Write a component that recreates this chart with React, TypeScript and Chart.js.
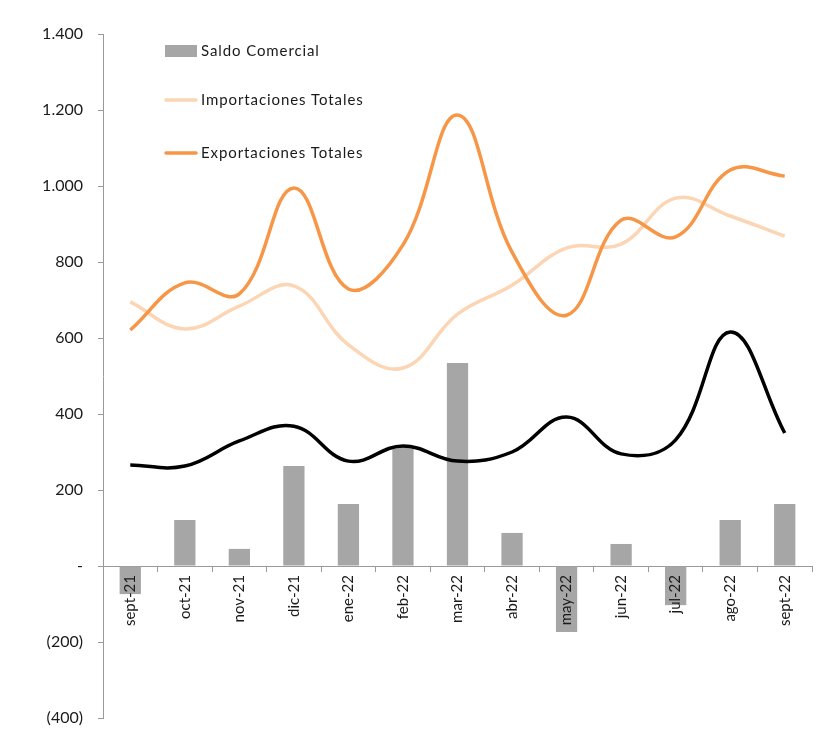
import React, { useEffect, useRef } from "react";
import { Chart, registerables } from "chart.js";

Chart.register(...registerables);

const categories = [
  "sept-21", "oct-21", "nov-21", "dic-21", "ene-22", "feb-22", "mar-22",
  "abr-22", "may-22", "jun-22", "jul-22", "ago-22", "sept-22",
];
const saldoComercial = [-74, 121, 45, 263, 163, 313, 534, 87, -174, 58, -103, 121, 163];
const importaciones = [695, 624, 684, 737, 582, 521, 663, 739, 837, 847, 968, 921, 868];
const exportaciones = [621, 745, 716, 995, 729, 845, 1187, 826, 660, 910, 866, 1042, 1026];
const serieNegra = [266, 263, 329, 368, 276, 316, 276, 300, 392, 295, 332, 616, 350];

const FONT = "Lato, 'Liberation Sans', sans-serif";

const fmt = (n: number) => String(n).replace(/\B(?=(\d{3})+(?!\d))/g, ".");

const legendPlugin = {
  id: "insideLegend",
  afterDraw(chart: any) {
    const { ctx, chartArea } = chart;
    const items = [
      { label: "Saldo Comercial", type: "box", color: "#A6A6A6", dy: 17 },
      { label: "Importaciones Totales", type: "line", color: "#FCD5B5", dy: 66 },
      { label: "Exportaciones Totales", type: "line", color: "#F79646", dy: 119 },
    ];
    ctx.save();
    const x0 = chartArea.left + 62;
    items.forEach((it) => {
      const y = chartArea.top + it.dy;
      if (it.type === "box") {
        ctx.fillStyle = it.color;
        ctx.fillRect(x0, y - 6, 32, 12);
      } else {
        ctx.strokeStyle = it.color;
        ctx.lineWidth = 3.5;
        ctx.lineCap = "round";
        ctx.beginPath();
        ctx.moveTo(x0 + 1, y);
        ctx.lineTo(x0 + 31, y);
        ctx.stroke();
      }
      ctx.fillStyle = "#1a1a1a";
      ctx.font = `15px ${FONT}`;
      (ctx as any).letterSpacing = "0.9px";
      ctx.textBaseline = "middle";
      ctx.textAlign = "left";
      ctx.fillText(it.label, x0 + 36, y);
    });
    ctx.restore();
  },
};

export default function App() {
  const ref = useRef<HTMLCanvasElement | null>(null);

  useEffect(() => {
    if (!ref.current) return;
    const chart = new Chart(ref.current, {
      type: "bar",
      data: {
        labels: categories,
        datasets: [
          {
            type: "line",
            label: "Exportaciones Totales",
            data: exportaciones,
            borderColor: "#F79646",
            borderWidth: 3.5,
            pointRadius: 0,
            tension: 0.4,
            fill: false,
            order: 1,
          },
          {
            type: "line",
            label: "Importaciones Totales",
            data: importaciones,
            borderColor: "#FCD5B5",
            borderWidth: 3.5,
            pointRadius: 0,
            tension: 0.4,
            fill: false,
            order: 2,
          },
          {
            type: "line",
            label: "",
            data: serieNegra,
            borderColor: "#000000",
            borderWidth: 3.5,
            pointRadius: 0,
            tension: 0.4,
            fill: false,
            order: 3,
          },
          {
            type: "bar",
            label: "Saldo Comercial",
            data: saldoComercial,
            backgroundColor: "#A6A6A6",
            categoryPercentage: 1,
            barPercentage: 0.39,
            order: 4,
          },
        ],
      },
      options: {
        animation: false,
        responsive: true,
        maintainAspectRatio: false,
        layout: { padding: { left: 0, top: 34, right: 5, bottom: 13 } },
        plugins: {
          legend: { display: false },
          tooltip: { enabled: false },
        },
        scales: {
          x: {
            position: { y: 0 } as any,
            afterFit: (scale: any) => {
              scale.height = 0;
            },
            grid: {
              offset: true,
              drawOnChartArea: false,
              drawTicks: true,
              tickLength: 5,
              color: "#9a9a9a",
            },
            border: { display: true, color: "#9a9a9a", width: 1 },
            ticks: {
              z: 1,
              minRotation: 90,
              maxRotation: 90,
              autoSkip: false,
              padding: 4,
              color: "#1a1a1a",
              font: { family: FONT, size: 15 },
            },
          },
          y: {
            min: -400,
            max: 1400,
            afterFit: (scale: any) => {
              scale.width = 103;
              scale.paddingTop = 0;
              scale.paddingBottom = 0;
            },
            grid: {
              drawOnChartArea: false,
              drawTicks: true,
              tickLength: 5,
              color: "#9a9a9a",
            },
            border: { display: true, color: "#9a9a9a", width: 1 },
            ticks: {
              stepSize: 200,
              padding: 15,
              color: "#1a1a1a",
              font: { family: FONT, size: 16 },
              callback: (v: any) => {
                const n = Number(v);
                if (n === 0) return "-";
                if (n < 0) return `(${fmt(-n)})`;
                return fmt(n);
              },
            },
          },
        },
      },
      plugins: [legendPlugin],
    });
    return () => chart.destroy();
  }, []);

  return (
    <div style={{ position: "absolute", left: 0, top: 0, width: 817, height: 731, background: "#fff" }}>
      <canvas ref={ref} />
    </div>
  );
}
